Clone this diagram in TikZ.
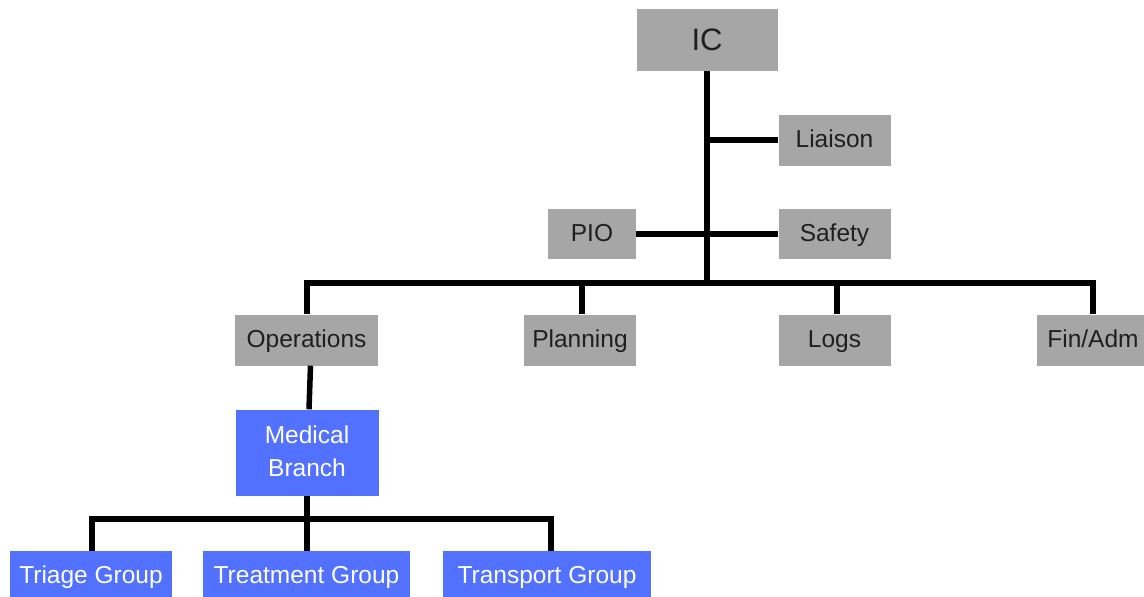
\documentclass[tikz,border=0pt]{standalone}
\usepackage{fontspec}
\setmainfont{Liberation Sans}
\definecolor{boxgray}{HTML}{A6A6A6}
\definecolor{boxblue}{HTML}{5271FF}
\begin{document}
\begin{tikzpicture}[x=1pt,y=-1pt,
  gbox/.style={fill=boxgray,draw=none,inner sep=0pt,text=black!88,font=\fontsize{24.5}{30}\selectfont,anchor=center,text height=17.5pt,text depth=2.1pt},
  bbox/.style={fill=boxblue,draw=none,inner sep=0pt,text=white,font=\fontsize{24.5}{33}\selectfont,anchor=center,align=center,text height=17.5pt,text depth=2.1pt},
  conn/.style={line width=5.5pt,black,line join=miter,line cap=butt}]
\useasboundingbox (0,0) rectangle (1144,597);
\begin{scope}
\clip (0,0) rectangle (1144,597);
\node[gbox,minimum width=141pt,minimum height=62pt,font=\fontsize{31}{36}\selectfont,text height=22pt,text depth=2pt] (ic) at (707,40) {IC};
\node[gbox,minimum width=112pt,minimum height=51pt] (liaison) at (834.5,140) {Liaison};
\node[gbox,minimum width=88pt,minimum height=50pt] (pio) at (592,234) {PIO};
\node[gbox,minimum width=112pt,minimum height=50pt] (safety) at (834.5,234) {Safety};
\node[gbox,minimum width=143pt,minimum height=51pt] (ops) at (306.5,340) {Operations};
\node[gbox,minimum width=112pt,minimum height=51pt] (plan) at (580,340) {Planning};
\node[gbox,minimum width=112pt,minimum height=51pt] (logs) at (834.5,340) {Logs};
\node[gbox,minimum width=112pt,minimum height=51pt] (fin) at (1093,340) {Fin/Adm};
\node[bbox,minimum width=143pt,minimum height=86pt,text height=50.5pt] (med) at (307,452.5) {Medical\\Branch};
\node[bbox,minimum width=162pt,minimum height=50pt] (tri) at (91,576) {Triage Group};
\node[bbox,minimum width=207pt,minimum height=50pt] (treat) at (306.5,576) {Treatment Group};
\node[bbox,minimum width=208pt,minimum height=50pt] (trans) at (547,576) {Transport Group};
\end{scope}
\coordinate (bus) at (707,283);
\coordinate (mbus) at (307,519);
\draw[conn] (ic.south) -- ([yshift=2.75pt]bus);
\draw[conn] (liaison.west) -- (liaison.west -| ic.south);
\draw[conn] (pio.east) -- (safety.west);
\draw[conn] ([xshift=0.5pt]ops.north) -- ([xshift=0.5pt]ops.north |- bus) -- (fin.north |- bus) -- (fin.north);
\draw[conn] ([xshift=2pt]plan.north) -- ([xshift=2pt]plan.north |- bus);
\draw[conn] ([xshift=2.5pt]logs.north) -- ([xshift=2.5pt]logs.north |- bus);
\draw[conn] ([xshift=4pt]ops.south) -- ([xshift=2pt]med.north);
\draw[conn] (med.south) -- (med.south |- treat.north);
\draw[conn] ([xshift=1pt]tri.north) -- ([xshift=1pt]tri.north |- mbus) -- ([xshift=4pt]trans.north |- mbus) -- ([xshift=4pt]trans.north);
\end{tikzpicture}
\end{document}
